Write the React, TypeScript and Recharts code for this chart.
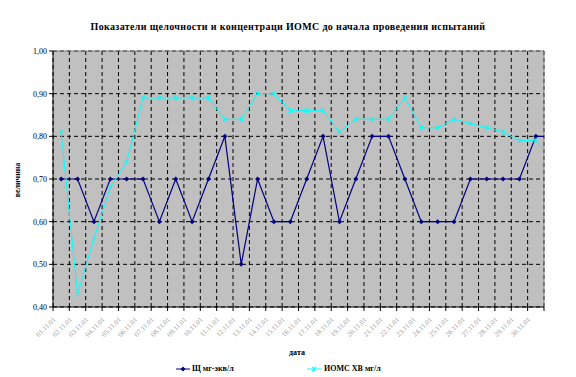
import { CartesianGrid, Legend, Line, LineChart, ReferenceLine, XAxis, YAxis } from 'recharts';

const dates = [
  '01.11.01', '02.11.01', '03.11.01', '04.11.01', '05.11.01', '06.11.01', '07.11.01', '08.11.01',
  '09.11.01', '10.11.01', '11.11.01', '12.11.01', '13.11.01', '14.11.01', '15.11.01', '16.11.01',
  '17.11.01', '18.11.01', '19.11.01', '20.11.01', '21.11.01', '22.11.01', '23.11.01', '24.11.01',
  '25.11.01', '26.11.01', '27.11.01', '28.11.01', '29.11.01', '30.11.01',
];

// the 31st value lies past the last date and only shows as a clipped segment
const alkalinity = [
  0.7, 0.7, 0.6, 0.7, 0.7, 0.7, 0.6, 0.7, 0.6, 0.7, 0.8, 0.5, 0.7, 0.6, 0.6, 0.7,
  0.8, 0.6, 0.7, 0.8, 0.8, 0.7, 0.6, 0.6, 0.6, 0.7, 0.7, 0.7, 0.7, 0.8, 0.8,
];
const ioms = [
  0.81, 0.43, 0.56, 0.68, 0.74, 0.89, 0.89, 0.89, 0.89, 0.89, 0.84, 0.84, 0.9, 0.9, 0.86, 0.86,
  0.86, 0.81, 0.84, 0.84, 0.84, 0.89, 0.82, 0.82, 0.84, 0.83, 0.82, 0.81, 0.79, 0.79, 0.75,
];

const yTicks = [0.4, 0.5, 0.6, 0.7, 0.8, 0.9, 1.0];
const boundaryTicks = Array.from({ length: dates.length + 1 }, (_, i) => i + 0.5);

const data = alkalinity.map((a, i) => ({ x: i + 1, a, b: ioms[i] }));

const NAVY = '#000080';
const CYAN = '#00FFFF';
const SERIF = '"Liberation Serif", "Times New Roman", serif';

function DateTick(props: any) {
  const { x, y, payload } = props;
  const label = dates[Math.round(payload.value + 0.5) - 1];
  if (!label) return null;
  const tx = x + 3;
  const ty = y + 7;
  return (
    <text
      x={tx}
      y={ty}
      transform={`rotate(-45, ${tx}, ${ty})`}
      textAnchor="end"
      fontSize={7}
      fontFamily={SERIF}
      fill="#a0a0a0"
    >
      {label}
    </text>
  );
}

function Diamond({ cx, cy, key }: any) {
  if (cx == null || cy == null) return null;
  return <path key={key} d={`M${cx},${cy - 2.5}L${cx + 2.5},${cy}L${cx},${cy + 2.5}L${cx - 2.5},${cy}Z`} fill={NAVY} />;
}

function Star({ cx, cy, key }: any) {
  if (cx == null || cy == null) return null;
  return (
    <path
      key={key}
      d={`M${cx - 2},${cy - 2}L${cx + 2},${cy + 2}M${cx - 2},${cy + 2}L${cx + 2},${cy - 2}M${cx},${cy - 2.5}L${cx},${cy + 2.5}`}
      stroke={CYAN}
      strokeWidth={1}
      fill="none"
    />
  );
}

function LegendBox() {
  const text = { position: 'absolute' as const, top: 0, fontSize: 8, fontWeight: 700, fontFamily: SERIF, lineHeight: '12px', whiteSpace: 'nowrap' as const };
  return (
    <div style={{ position: 'relative', height: 12, width: 576 }}>
      <svg style={{ position: 'absolute', left: 176, top: 0 }} width={14} height={12}>
        <line x1={0} y1={6} x2={14} y2={6} stroke={NAVY} />
        <Diamond cx={7} cy={6} />
      </svg>
      <span style={{ ...text, left: 192 }}>Щ мг-экв/л</span>
      <svg style={{ position: 'absolute', left: 307, top: 0 }} width={14} height={12}>
        <line x1={0} y1={6} x2={14} y2={6} stroke={CYAN} />
        <Star cx={7} cy={6} />
      </svg>
      <span style={{ ...text, left: 324 }}>ИОМС ХВ мг/л</span>
    </div>
  );
}

export default function App() {
  return (
    <div style={{ position: 'absolute', left: 0, top: 0, width: 576, height: 377, background: '#fff', fontFamily: SERIF }}>
      <div
        style={{
          position: 'absolute', left: 0, top: 20, width: 576, textAlign: 'center', fontSize: 10, fontWeight: 700,
          lineHeight: '14px', letterSpacing: 0.35,
        }}
      >
        Показатели щелочности и концентраци ИОМС до начала проведения испытаний
      </div>
      <div
        style={{
          position: 'absolute', left: 17, top: 180, fontSize: 8, fontWeight: 700, whiteSpace: 'nowrap',
          transform: 'translate(-50%, -50%) rotate(-90deg)',
        }}
      >
        величина
      </div>
      <div style={{ position: 'absolute', left: 297, top: 352, fontSize: 8, fontWeight: 700, transform: 'translate(-50%, -50%)' }}>
        дата
      </div>
      <LineChart width={576} height={377} data={data} margin={{ top: 51, right: 32, left: 0, bottom: 0 }}>
        <CartesianGrid stroke="#000" strokeDasharray="4 3" fill="#C0C0C0" fillOpacity={1} />
        <XAxis
          type="number"
          dataKey="x"
          domain={[0.5, 30.5]}
          allowDataOverflow
          ticks={boundaryTicks}
          interval={0}
          tickSize={4}
          height={70}
          stroke="#000"
          tick={<DateTick />}
        />
        <YAxis
          type="number"
          domain={[0.4, 1]}
          ticks={yTicks}
          interval={0}
          width={53}
          tickSize={4}
          stroke="#000"
          tick={{ fontSize: 8, fontFamily: SERIF, fill: '#000' }}
          tickFormatter={(v: number) => v.toFixed(2).replace('.', ',')}
        />
        <ReferenceLine y={1} stroke="#808080" strokeWidth={1} />
        <ReferenceLine x={30.5} stroke="#808080" strokeWidth={1} />
        <Line dataKey="a" stroke={NAVY} strokeWidth={1.2} dot={<Diamond />} activeDot={false} isAnimationActive={false} />
        <Line dataKey="b" stroke={CYAN} strokeWidth={1} dot={<Star />} activeDot={false} isAnimationActive={false} />
        <Legend
          verticalAlign="middle"
          layout="horizontal"
          content={() => <LegendBox />}
          wrapperStyle={{ position: 'absolute', top: 363, left: 0, width: 576, height: 12 }}
        />
      </LineChart>
    </div>
  );
}
